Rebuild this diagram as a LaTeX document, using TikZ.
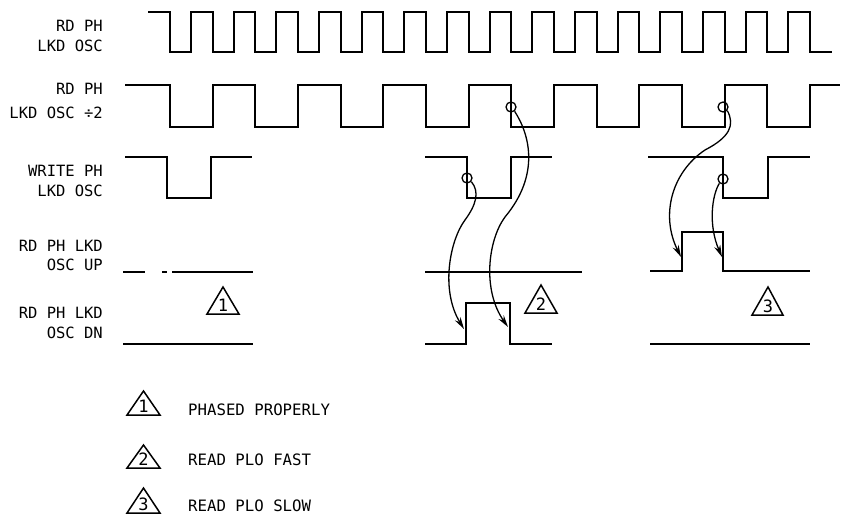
\documentclass[tikz,border=0pt]{standalone}
\usepackage{fontspec}
\setmainfont{DejaVu Sans Mono}
\newfontfamily\monofam{DejaVu Sans Mono}
\usetikzlibrary{arrows.meta}
\newcommand\lblfont{\monofam\fontsize{15.5}{18}\selectfont}
\newcommand\legfont{\monofam\fontsize{15.7}{18}\selectfont}
\newcommand\numfont{\monofam\fontsize{17}{18}\selectfont}
\begin{document}
\begin{tikzpicture}[x=1pt,y=-1pt,
  wave/.style={line width=2pt, line join=miter},
  conn/.style={line width=1.3pt, -{Stealth[length=12pt,width=6.5pt]}},
  lbl/.style={anchor=base east, inner sep=0pt, font=\lblfont},
  ring/.style={circle, draw, line width=1.3pt, minimum size=10pt, inner sep=0pt},
  tri/.style={line width=1.5pt, line join=miter},
  num/.style={inner sep=0pt, font=\numfont},
  leg/.style={anchor=base west, inner sep=0pt, font=\legfont}]
\useasboundingbox (0,0) rectangle (842,524);

% labels
\node[lbl] (l1a) at (103,31.7) {RD PH};
\node[lbl] (l1b) at (103,51.7) {LKD OSC};
\node[lbl] (l2a) at (103,95) {RD PH};
\node[lbl] (l2b) at (103,118.3) {LKD OSC ÷2};
\node[lbl] (l3a) at (103,176.7) {WRITE PH};
\node[lbl] (l3b) at (103,196) {LKD OSC};
\node[lbl] (l4a) at (103,251.7) {RD PH LKD};
\node[lbl] (l4b) at (103,270) {OSC UP};
\node[lbl] (l5a) at (103,318.3) {RD PH LKD};
\node[lbl] (l5b) at (103,338.3) {OSC DN};

% row 1: RD PH LKD OSC
\draw[wave] (148,12)
  \foreach \k in {0,...,14}{
    -- ({170+42.67*\k},12) -- ({170+42.67*\k},52)
    -- ({191+42.67*\k},52) -- ({191+42.67*\k},12)}
  -- (810,12) -- (810,52) -- (832,52);

% row 2: RD PH LKD OSC /2
\draw[wave] (125,85)
  \foreach \j in {0,...,7}{
    -- ({170+85.34*\j},85) -- ({170+85.34*\j},127)
    -- ({212.67+85.34*\j},127) -- ({212.67+85.34*\j},85)}
  -- (840,85);

% row 3: WRITE PH LKD OSC
\draw[wave] (125,157) -- (167,157) -- (167,198) -- (211,198) -- (211,157) -- (252,157);
\draw[wave] (425,157) -- (467,157) -- (467,198) -- (511,198) -- (511,157) -- (552,157);
\draw[wave] (648,157) -- (723,157) -- (723,198) -- (768,198) -- (768,157) -- (810,157);

% row 4: RD PH LKD OSC UP
\draw[wave] (123,272) -- (145,272);
\draw[wave] (162,272) -- (167,272);
\draw[wave] (172,272) -- (253,272);
\draw[wave] (425,272) -- (582,272);
\draw[wave] (650,271) -- (682,271) -- (682,232) -- (723,232) -- (723,271) -- (810,271);

% row 5: RD PH LKD OSC DN
\draw[wave] (123,344) -- (253,344);
\draw[wave] (425,344) -- (466,344) -- (466,303) -- (510,303) -- (510,344) -- (552,344);
\draw[wave] (650,344) -- (810,344);

% rings and arrows
\node[ring] (r1) at (511,107) {};
\node[ring] (r2) at (467,178) {};
\node[ring] (r3) at (723,107) {};
\node[ring] (r4) at (723,179) {};
\coordinate (tA) at (508,327);
\coordinate (tB) at (464,329);
\coordinate (tC) at (681,257);
\coordinate (tD) at (722,257);
\draw[conn] (r1.-50) .. controls (530,135) and (540,175) .. (505,217)
  .. controls (488,240) and (482,290) .. (tA);
\draw[conn] (r2.-40) .. controls (480,192) and (476,205) .. (465,220)
  .. controls (450,240) and (440,290) .. (tB);
\draw[conn] (r3.-40) .. controls (735,125) and (730,137) .. (705,150)
  .. controls (672,172) and (660,215) .. (tC);
\draw[conn] (r4.-130) .. controls (712,195) and (708,225) .. (tD);

% triangles in diagram
\draw[tri] (207,314) -- (239,314) -- (223,287) -- cycle;
\node[num] (n1) at (223,305) {1};
\draw[tri] (525,313) -- (557,313) -- (541,285) -- cycle;
\node[num] (n2) at (541,304.5) {2};
\draw[tri] (752,315) -- (783,315) -- (768,287) -- cycle;
\node[num] (n3) at (768,306.5) {3};

% legend
\draw[tri] (127,415) -- (160,415) -- (143.5,391) -- cycle;
\node[num] (k1) at (143.5,406.5) {1};
\node[leg] (t1) at (188,415) {PHASED PROPERLY};
\draw[tri] (127,468) -- (160,468) -- (143.5,445) -- cycle;
\node[num] (k2) at (143.5,459.5) {2};
\node[leg] (t2) at (188,465) {READ PLO FAST};
\draw[tri] (127,513) -- (160,513) -- (143.5,488) -- cycle;
\node[num] (k3) at (143.5,504.5) {3};
\node[leg] (t3) at (188,511.7) {READ PLO SLOW};
\end{tikzpicture}
\end{document}
